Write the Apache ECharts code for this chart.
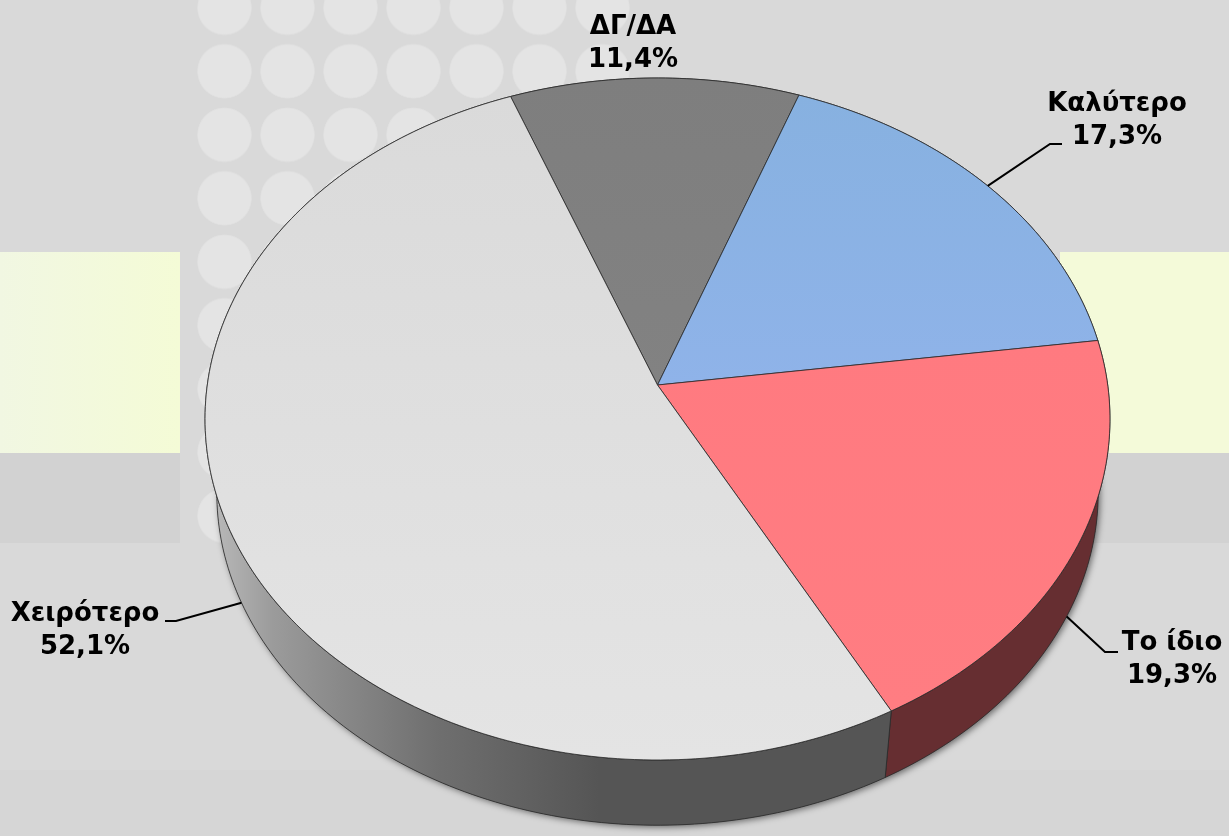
<!DOCTYPE html>
<html>
<head>
<meta charset="utf-8">
<title>Πίτα</title>
<style>
html, body { margin: 0; padding: 0; width: 1229px; height: 836px; overflow: hidden; background: #d9d9d9; }
.band { position: absolute; }
#dots {
    left: 193px; top: -24px; width: 441px; height: 572px;
    background-image: radial-gradient(circle 27.5px at 50% 50%, #e4e4e4 0, #e4e4e4 26px, #dfdfdf 27px, rgba(217,217,217,0) 27.5px);
    background-size: 63px 63.5px;
}
#chart { position: absolute; left: 0; top: 0; width: 1229px; height: 836px; }
</style>
</head>
<body>
<div class="band" id="dots"></div>
<div class="band" style="left:0;top:252px;width:180px;height:201px;background:linear-gradient(90deg,#f1f7e2,#f4fbd6)"></div>
<div class="band" style="left:0;top:453px;width:180px;height:90px;background:#d2d2d2"></div>
<div class="band" style="left:1060px;top:252px;width:169px;height:201px;background:#f4fad9"></div>
<div class="band" style="left:1060px;top:453px;width:169px;height:90px;background:#d2d2d2"></div>
<div class="band" style="left:0;top:770px;width:1229px;height:66px;background:#d6d6d6"></div>
<div id="chart"></div>
<script src="https://cdn.jsdelivr.net/npm/echarts@6/dist/echarts.min.js"></script>
<script>
var categories = ['ΔΓ/ΔΑ', 'Καλύτερο', 'Το ίδιο', 'Χειρότερο'];
var shares = [11.4, 17.3, 19.3, 52.1];

var faceColors = [['#7e7e7e', '#828282'], ['#87b1e0', '#8fb3e9'], ['#ff7a80', '#ff7d82'], ['#dadada', '#e4e4e4']];

// label centre and leader elbow/end for each category, in page pixels
var labelPos = [[633, 44], [1117, 121], [1172, 660], [85, 631]];
var leaderEnds = [null, [[1050, 144], [1062, 144]], [[1105, 652], [1118, 652]], [[176, 621], [165, 621]]];

// perspective of the tilted disc: apex of the slices and the homography constants
var APEX_X = 657.5, APEX_Y = 385, PERSP_A = 450.2, PERSP_B = 337.6, PERSP_K = 0.0997;
var FLOOR_SCALE = 0.974, FLOOR_DY = 75;
var START_ANGLE = -20.9;

var total = 0;
for (var n = 0; n < shares.length; n++) total += shares[n];

function project(deg, floor) {
    var a = deg * Math.PI / 180;
    var u = Math.sin(a), v = Math.cos(a);
    var w = 1 + PERSP_K * v;
    var s = floor ? FLOOR_SCALE : 1;
    return [APEX_X + s * PERSP_A * u / w, APEX_Y + (floor ? FLOOR_DY : 0) - s * PERSP_B * v / w];
}

function sliceRange(idx) {
    var before = 0;
    for (var i = 0; i < idx; i++) before += shares[i];
    return [START_ANGLE + before / total * 360, START_ANGLE + (before + shares[idx]) / total * 360];
}

function arcPoints(from, to, floor) {
    var pts = [], steps = Math.ceil(Math.abs(to - from));
    for (var i = 0; i <= steps; i++) pts.push(project(from + (to - from) * i / steps, floor));
    return pts;
}

// soft shadow of the whole disc, only its lower rim shows
function renderFloor(params, api) {
    return {
        type: 'polygon',
        shape: { points: arcPoints(0, 360, true) },
        style: { fill: '#555555', shadowBlur: 6, shadowColor: 'rgba(0,0,0,0.5)', shadowOffsetX: 2, shadowOffsetY: 2 }
    };
}

function renderWall(params, api) {
    var r = sliceRange(params.dataIndex);
    var pts = arcPoints(r[0], r[1], false).concat(arcPoints(r[1], r[0], true));
    var fill = params.dataIndex === 2 ? '#662e31'
        : new echarts.graphic.LinearGradient(205, 0, 885, 0, [
            { offset: 0, color: '#bdbdbd' },
            { offset: 0.1, color: '#9b9b9b' },
            { offset: 0.34, color: '#6f6f6f' },
            { offset: 0.58, color: '#555555' },
            { offset: 1, color: '#555555' }
        ], true);
    return {
        type: 'polygon',
        shape: { points: pts },
        style: { fill: fill, stroke: '#2a2a2a', lineWidth: 0.8 }
    };
}

function renderFace(params, api) {
    var r = sliceRange(params.dataIndex);
    var c = faceColors[params.dataIndex];
    var pts = [[APEX_X, APEX_Y]].concat(arcPoints(r[0], r[1], false));
    return {
        type: 'polygon',
        shape: { points: pts },
        style: {
            fill: new echarts.graphic.LinearGradient(0, 0, 0, 1, [{ offset: 0, color: c[0] }, { offset: 1, color: c[1] }]),
            stroke: '#2a2a2a',
            lineWidth: 0.8
        }
    };
}

function renderLabel(params, api) {
    var idx = params.dataIndex;
    var value = api.value(0).toFixed(1).replace('.', ',') + '%';
    var kids = [{
        type: 'text',
        x: labelPos[idx][0],
        y: labelPos[idx][1],
        style: {
            text: categories[idx] + '\n' + value,
            fill: '#000',
            font: 'bold 26px "DejaVu Sans"',
            lineHeight: 33,
            align: 'center',
            verticalAlign: 'middle'
        }
    }];
    if (leaderEnds[idx]) {
        var r = sliceRange(idx);
        var mid = (r[0] + r[1]) / 2;
        var onFloor = Math.cos(mid * Math.PI / 180) < 0;
        kids.push({
            type: 'polyline',
            shape: { points: [project(mid, onFloor)].concat(leaderEnds[idx]) },
            style: { fill: 'none', stroke: '#000', lineWidth: 2 }
        });
    }
    return { type: 'group', children: kids };
}

var seriesData = [];
for (var i = 0; i < categories.length; i++) seriesData.push({ name: categories[i], value: [shares[i]] });

var chart = echarts.init(document.getElementById('chart'));
chart.setOption({
    backgroundColor: 'transparent',
    animation: false,
    series: [
        { type: 'custom', coordinateSystem: 'none', z: 1, data: [total], renderItem: renderFloor, silent: true },
        { type: 'custom', coordinateSystem: 'none', z: 2, data: seriesData, renderItem: renderWall, silent: true },
        { type: 'custom', coordinateSystem: 'none', z: 3, data: seriesData, renderItem: renderFace, silent: true },
        { type: 'custom', coordinateSystem: 'none', z: 4, data: seriesData, renderItem: renderLabel, silent: true }
    ]
});
</script>
</body>
</html>
